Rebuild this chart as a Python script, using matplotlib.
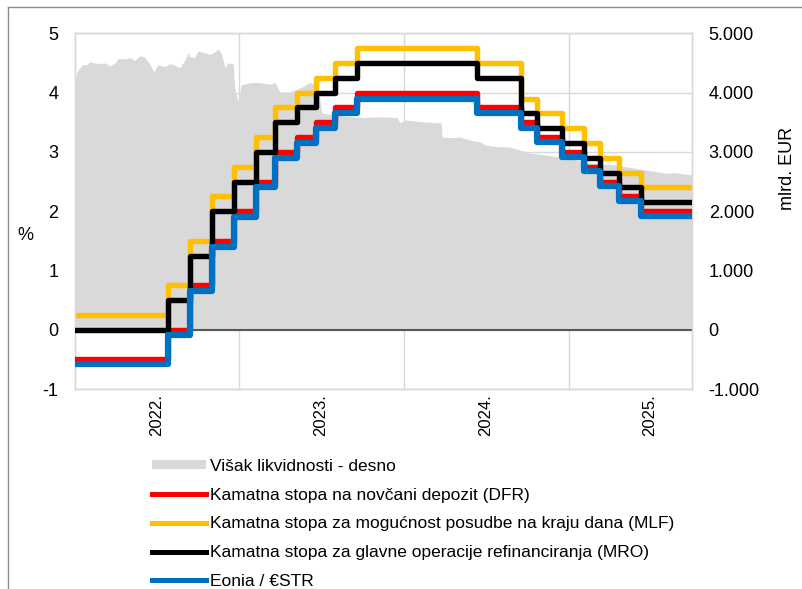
import matplotlib
matplotlib.use("Agg")
import matplotlib.pyplot as plt
from matplotlib.patches import Patch
from matplotlib.lines import Line2D
import pandas as pd

plt.rcParams['font.family'] = ['Liberation Sans', 'DejaVu Sans']
plt.rcParams['axes.unicode_minus'] = False

# ---- data ----
liq_dates = ["2022-01-01", "2022-01-05", "2022-01-17", "2022-01-28", "2022-02-03", "2022-02-14",
             "2022-02-26", "2022-03-09", "2022-03-20", "2022-03-31", "2022-04-06", "2022-04-22",
             "2022-05-03", "2022-05-14", "2022-05-25", "2022-06-05", "2022-06-17", "2022-06-25",
             "2022-07-04", "2022-07-20", "2022-07-31", "2022-08-11", "2022-08-22", "2022-09-02",
             "2022-09-09", "2022-09-13", "2022-09-24", "2022-10-01", "2022-10-17", "2022-10-28",
             "2022-11-08", "2022-11-15", "2022-11-23", "2022-11-30", "2022-12-07", "2022-12-18",
             "2022-12-22", "2022-12-29", "2023-01-05", "2023-01-25", "2023-02-16", "2023-03-10",
             "2023-03-21", "2023-04-01", "2023-04-23", "2023-05-16", "2023-06-07", "2023-06-25",
             "2023-07-03", "2023-07-21", "2023-08-24", "2023-10-03", "2023-11-09", "2023-12-17",
             "2023-12-24", "2024-01-04", "2024-02-06", "2024-02-28", "2024-03-24", "2024-03-26",
             "2024-04-13", "2024-05-05", "2024-05-27", "2024-06-18", "2024-06-29", "2024-07-22",
             "2024-08-24", "2024-09-15", "2024-10-07", "2024-11-10", "2024-12-13", "2025-01-15",
             "2025-02-18", "2025-03-12", "2025-04-14", "2025-05-06", "2025-06-09", "2025-07-12",
             "2025-08-03", "2025-08-25", "2025-10-02"]
liq_values = [4170, 4350, 4470, 4470, 4520, 4500,
              4490, 4500, 4450, 4500, 4570, 4570,
              4590, 4540, 4620, 4600, 4470, 4350,
              4470, 4440, 4490, 4460, 4420, 4550,
              4670, 4610, 4590, 4700, 4670, 4640,
              4690, 4740, 4640, 4420, 4500, 4490,
              4050, 3840, 4130, 4170, 4170, 4140,
              4170, 4010, 4010, 4080, 4170, 4100,
              3660, 3630, 3600, 3580, 3590, 3580,
              3490, 3540, 3510, 3500, 3490, 3250,
              3240, 3250, 3200, 3170, 3120, 3090,
              3080, 3030, 2980, 2950, 2910, 2870,
              2810, 2800, 2780, 2750, 2710, 2670,
              2640, 2650, 2610]

rate_dates = ["2022-01-01", "2022-07-27", "2022-09-14", "2022-11-02", "2022-12-21", "2023-02-08",
              "2023-03-22", "2023-05-10", "2023-06-21", "2023-08-02", "2023-09-20", "2024-06-12",
              "2024-09-18", "2024-10-23", "2024-12-18", "2025-02-05", "2025-03-12", "2025-04-23",
              "2025-06-11", "2025-10-02"]
dfr = [-0.50, 0.00, 0.75, 1.50, 2.00, 2.50, 3.00, 3.25, 3.50, 3.75, 4.00, 3.75,
       3.50, 3.25, 3.00, 2.75, 2.50, 2.25, 2.00, 2.00]
mlf = [0.25, 0.75, 1.50, 2.25, 2.75, 3.25, 3.75, 4.00, 4.25, 4.50, 4.75, 4.50,
       3.90, 3.65, 3.40, 3.15, 2.90, 2.65, 2.40, 2.40]
mro = [0.00, 0.50, 1.25, 2.00, 2.50, 3.00, 3.50, 3.75, 4.00, 4.25, 4.50, 4.25,
       3.65, 3.40, 3.15, 2.90, 2.65, 2.40, 2.15, 2.15]
estr = [-0.58, -0.09, 0.66, 1.40, 1.90, 2.40, 2.90, 3.15, 3.40, 3.65, 3.90, 3.66,
        3.41, 3.16, 2.92, 2.67, 2.42, 2.17, 1.92, 1.92]

year_labels = ["2022.", "2023.", "2024.", "2025."]
left_ticks = [-1, 0, 1, 2, 3, 4, 5]
right_ticks = [-1000, 0, 1000, 2000, 3000, 4000, 5000]
right_tick_labels = ["-1.000", "0", "1.000", "2.000", "3.000", "4.000", "5.000"]

labels = ["Višak likvidnosti - desno",
          "Kamatna stopa na novčani depozit (DFR)",
          "Kamatna stopa za mogućnost posudbe na kraju dana (MLF)",
          "Kamatna stopa za glavne operacije refinanciranja (MRO)",
          "Eonia / €STR"]

# ---- figure ----
W, H = 803, 589
fig = plt.figure(figsize=(W / 100, H / 100), dpi=100)
ax2 = fig.add_axes([75 / W, 1 - 389 / H, (692 - 75) / W, (389 - 33.3) / H])
ax = ax2.twinx()
ax.set_zorder(ax2.get_zorder() + 1)
ax.patch.set_visible(False)

ld = pd.to_datetime(liq_dates)
rd = pd.to_datetime(rate_dates)

GREY = '#d9d9d9'
ax2.fill_between(ld, 0, liq_values, color=GREY, linewidth=0)
ax2.set_ylim(-1000, 5000)
ax2.yaxis.tick_right()
ax2.set_yticks(right_ticks)
ax2.set_yticklabels(right_tick_labels)

ax.yaxis.tick_left()
ax.set_ylim(-1, 5)
ax.set_yticks(left_ticks)
ax.set_yticklabels([str(v) for v in left_ticks])

cols = {'dfr': '#ff0000', 'mlf': '#ffc000', 'mro': '#000000', 'estr': '#0070c0'}
ax.axhline(0, color='#595959', lw=1.5, zorder=1)
ax.step(rd, dfr, where='post', color=cols['dfr'], lw=3.9, zorder=3)
ax.step(rd, mlf, where='post', color=cols['mlf'], lw=3.9, zorder=2)
ax.step(rd, mro, where='post', color=cols['mro'], lw=3.9, zorder=4)
ax.step(rd, estr, where='post', color=cols['estr'], lw=4.5, zorder=5)

xmin, xmax = pd.Timestamp("2022-01-01"), pd.Timestamp("2025-10-02")
for a in (ax, ax2):
    a.set_xlim(xmin, xmax)
    for s in a.spines.values():
        s.set_color(GREY)
        s.set_linewidth(1)

for v in right_ticks:
    ax2.axhline(v, color=GREY, lw=1, zorder=0)
for y in [2023, 2024, 2025]:
    ax.axvline(pd.Timestamp(f"{y}-01-01"), color=GREY, lw=1, zorder=0.5)

ax2.set_xticks([pd.Timestamp(f"{y}-07-01") for y in [2022, 2023, 2024, 2025]])
ax2.set_xticklabels(year_labels, rotation=90, fontsize=12)
ax.tick_params(axis='x', length=0, labelbottom=False)
ax2.tick_params(axis='x', length=0, pad=4)
ax.tick_params(axis='y', length=0, pad=12, labelsize=13)
ax2.tick_params(axis='y', length=0, pad=12, labelsize=13)

fig.text(25 / W, 1 - 236 / H, "%", fontsize=13, ha='center', va='center')
fig.text(788 / W, 1 - 168 / H, "mlrd. EUR", fontsize=13, rotation=90, ha='center', va='center')

handles = [Patch(facecolor=GREY, edgecolor='none'),
           Line2D([], [], color=cols['dfr'], lw=3.6),
           Line2D([], [], color=cols['mlf'], lw=3.6),
           Line2D([], [], color=cols['mro'], lw=3.6),
           Line2D([], [], color=cols['estr'], lw=3.6)]
fig.legend(handles, labels, loc='upper left', bbox_to_anchor=(152 / W, 1 - 459 / H),
           frameon=False, fontsize=12.5, handlelength=3.1, handleheight=0.45,
           handletextpad=0.25, labelspacing=0.79, borderpad=0, borderaxespad=0)

fig.add_artist(Line2D([8 / W, 1], [1 - 7 / H, 1 - 7 / H], transform=fig.transFigure, color='#8c8c8c', lw=1))
fig.add_artist(Line2D([8 / W, 8 / W], [0, 1 - 7 / H], transform=fig.transFigure, color='#8c8c8c', lw=1))

fig.savefig("out.png", dpi=100)
